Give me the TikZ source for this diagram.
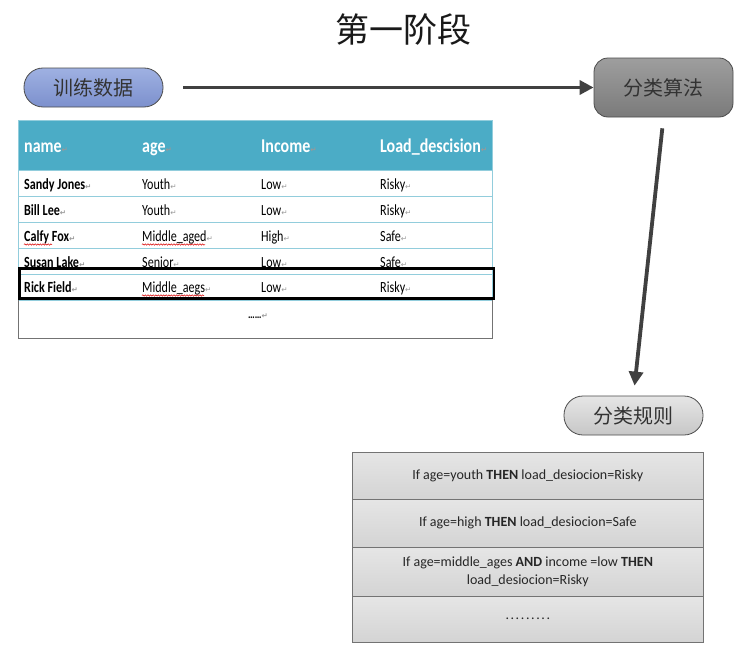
\documentclass[tikz,border=0pt]{standalone}
\usepackage{fontspec}
\setmainfont{Carlito}
\newfontfamily\cjk{Noto Sans CJK SC}
\newfontfamily\dejavu{DejaVu Sans}
\newfontfamily\tbody[FakeStretch=0.78]{Carlito}
\newfontfamily\thead[FakeStretch=0.82]{Carlito}
\usetikzlibrary{arrows.meta,decorations.pathmorphing}
\definecolor{hdr}{HTML}{4BACC6}
\definecolor{rowline}{HTML}{92CDDC}
\definecolor{arr}{HTML}{404040}
\definecolor{blutop}{HTML}{9FB1E2}
\definecolor{blubot}{HTML}{7C90CD}
\newcommand\retmk{{\dejavu\fontsize{7.5}{7.5}\selectfont\textcolor{black!40}{↵}}}
\tikzset{
  pill/.style={draw=black!70, line width=0.8pt, minimum width=139pt, minimum height=39pt,
    inner sep=0pt, font=\cjk\fontsize{20}{20}\selectfont, text=black!80},
  conn/.style={draw=arr, line width=3.8pt, -{Triangle[length=14pt,width=14pt]}},
  hdrtxt/.style={anchor=base west, inner sep=0pt, text=white, font=\thead\fontsize{19.5}{20}\selectfont\bfseries},
  celltxt/.style={anchor=base west, inner sep=0pt, text=black, font=\tbody\fontsize{15.5}{16}\selectfont},
  boldcell/.style={celltxt, font=\tbody\fontsize{15.5}{16}\selectfont\bfseries},
  rulerow/.style={draw=black!55, line width=0.6pt, top color=black!10, bottom color=black!17,
    minimum width=351pt, inner sep=0pt, anchor=north west, align=center,
    font=\fontsize{14}{17.5}\selectfont, text=black!85},
  squig/.style={draw=red!85!black, line width=0.5pt, decorate,
    decoration={snake, amplitude=0.7pt, segment length=2.6pt}}
}
\begin{document}
\begin{tikzpicture}[x=1pt,y=-1pt]
\useasboundingbox (0,0) rectangle (742,653);
\fill[white] (0,0) rectangle (742,653);

% title
\node[font=\cjk\fontsize{34}{34}\selectfont, text=black!90] (title) at (403,30) {第一阶段};

% main nodes
\node[pill, rounded corners=19pt, top color=blutop, bottom color=blubot] (train) at (93.5,87.5) {训练数据};
\node[pill, rounded corners=14pt, minimum height=59pt, top color=black!38, bottom color=black!52] (algo) at (663.5,87.5) {分类算法};
\node[pill, rounded corners=19pt, top color=black!10, bottom color=black!22] (rules) at (633.5,415.5) {分类规则};

\draw[conn, shorten <=20pt] (train.east) -- (algo.west);
\draw[conn, shorten <=11pt, shorten >=10pt] (algo.south) -- (rules.north);

% data table
\fill[hdr] (18,120) rectangle (492,170);
\draw[rowline, line width=0.8pt] (18,120) rectangle (492,170);
\draw[rowline, line width=0.8pt] (18,170) rectangle (492,300);
\foreach \yy in {196,222,248,274} \draw[rowline, line width=0.8pt] (18,\yy) -- (492,\yy);
\draw[black!55, line width=0.8pt] (18,300) -- (18,338) -- (492,338) -- (492,300);

\node[hdrtxt] (h1) at (24,152) {name\retmk};
\node[hdrtxt] (h2) at (142,152) {age\retmk};
\node[hdrtxt] (h3) at (261,152) {Income\retmk};
\node[hdrtxt] (h4) at (380,152) {Load\_descision\retmk};

\node[boldcell] (c11) at (24,189) {Sandy Jones\retmk};
\node[celltxt] (c12) at (142,189) {Youth\retmk};
\node[celltxt] (c13) at (261,189) {Low\retmk};
\node[celltxt] (c14) at (380,189) {Risky\retmk};

\node[boldcell] (c21) at (24,215) {Bill Lee\retmk};
\node[celltxt] (c22) at (142,215) {Youth\retmk};
\node[celltxt] (c23) at (261,215) {Low\retmk};
\node[celltxt] (c24) at (380,215) {Risky\retmk};

\node[boldcell] (c31) at (24,241) {Calfy Fox\retmk};
\node[celltxt] (c32) at (142,241) {Middle\_aged\retmk};
\node[celltxt] (c33) at (261,241) {High\retmk};
\node[celltxt] (c34) at (380,241) {Safe\retmk};

\node[boldcell] (c41) at (24,267) {Susan Lake\retmk};
\node[celltxt] (c42) at (142,267) {Senior\retmk};
\node[celltxt] (c43) at (261,267) {Low\retmk};
\node[celltxt] (c44) at (380,267) {Safe\retmk};

\node[boldcell] (c51) at (24,292) {Rick Field\retmk};
\node[celltxt] (c52) at (142,292) {Middle\_aegs\retmk};
\node[celltxt] (c53) at (261,292) {Low\retmk};
\node[celltxt] (c54) at (380,292) {Risky\retmk};

\node[celltxt, anchor=base, font=\tbody\fontsize{12}{13}\selectfont\bfseries] (dots) at (258,318) {……\retmk};

% spell-check underlines
\draw[squig] (24,244.5) -- (52,244.5);
\draw[squig] (142,244.5) -- (205,244.5);
\draw[squig] (142,295.5) -- (204,295.5);

% highlight box
\draw[black, line width=2.5pt] (19.5,268.5) rectangle (494,298.5);

% rules table
\node[rulerow, minimum height=47pt] (r1) at (352,452) {If age=youth \textbf{THEN} load\_desiocion=Risky};
\node[rulerow, minimum height=48pt] (r2) at (352,499) {If age=high \textbf{THEN} load\_desiocion=Safe};
\node[rulerow, minimum height=49pt] (r3) at (352,547) {If age=middle\_ages \textbf{AND} income =low \textbf{THEN}\\load\_desiocion=Risky};
\node[rulerow, minimum height=46pt] (r4) at (352,596) {\raisebox{2pt}{.\kern1.6pt.\kern1.6pt.\kern1.6pt.\kern1.6pt.\kern1.6pt.\kern1.6pt.\kern1.6pt.\kern1.6pt.}};
\end{tikzpicture}
\end{document}
